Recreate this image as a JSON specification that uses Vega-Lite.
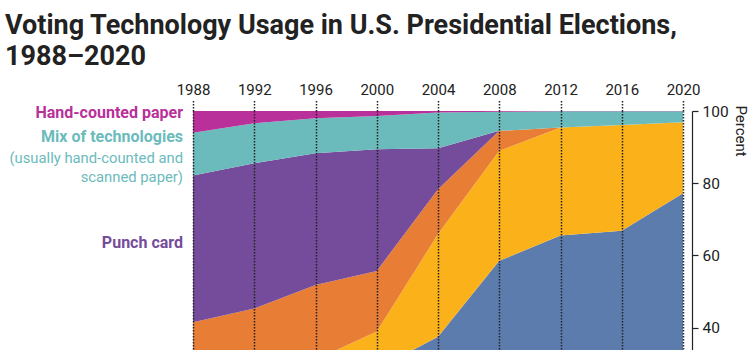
{
  "$schema": "https://vega.github.io/schema/vega-lite/v6.json",
  "width": 490,
  "height": 361,
  "autosize": {"type": "none"},
  "padding": {"left": 193, "top": 111, "right": 67, "bottom": 10},
  "background": "white",
  "title": {
    "text": ["Voting Technology Usage in U.S. Presidential Elections,", "1988–2020"],
    "anchor": "start",
    "frame": "group",
    "dx": -188,
    "offset": 11,
    "fontSize": 27,
    "font": "Roboto, sans-serif",
    "fontWeight": "bold",
    "color": "#222222",
    "lineHeight": 31
  },
  "config": {
    "view": {"stroke": null},
    "font": "Roboto, sans-serif"
  },
  "datasets": {
    "usage": [
      {"tech": "Optical scan", "rank": 1, "year": 1988, "pct": 7.5},
      {"tech": "Optical scan", "rank": 1, "year": 1992, "pct": 15.5},
      {"tech": "Optical scan", "rank": 1, "year": 1996, "pct": 23.5},
      {"tech": "Optical scan", "rank": 1, "year": 2000, "pct": 28.5},
      {"tech": "Optical scan", "rank": 1, "year": 2004, "pct": 37.5},
      {"tech": "Optical scan", "rank": 1, "year": 2008, "pct": 58.5},
      {"tech": "Optical scan", "rank": 1, "year": 2012, "pct": 65.5},
      {"tech": "Optical scan", "rank": 1, "year": 2016, "pct": 66.8},
      {"tech": "Optical scan", "rank": 1, "year": 2020, "pct": 77.2},
      {"tech": "Electronic", "rank": 2, "year": 1988, "pct": 3.7},
      {"tech": "Electronic", "rank": 2, "year": 1992, "pct": 3.5},
      {"tech": "Electronic", "rank": 2, "year": 1996, "pct": 7.6},
      {"tech": "Electronic", "rank": 2, "year": 2000, "pct": 10.4},
      {"tech": "Electronic", "rank": 2, "year": 2004, "pct": 28.4},
      {"tech": "Electronic", "rank": 2, "year": 2008, "pct": 30.5},
      {"tech": "Electronic", "rank": 2, "year": 2012, "pct": 29.9},
      {"tech": "Electronic", "rank": 2, "year": 2016, "pct": 29.3},
      {"tech": "Electronic", "rank": 2, "year": 2020, "pct": 19.7},
      {"tech": "Lever machine", "rank": 3, "year": 1988, "pct": 30.3},
      {"tech": "Lever machine", "rank": 3, "year": 1992, "pct": 26.3},
      {"tech": "Lever machine", "rank": 3, "year": 1996, "pct": 20.7},
      {"tech": "Lever machine", "rank": 3, "year": 2000, "pct": 16.8},
      {"tech": "Lever machine", "rank": 3, "year": 2004, "pct": 12.4},
      {"tech": "Lever machine", "rank": 3, "year": 2008, "pct": 5.5},
      {"tech": "Lever machine", "rank": 3, "year": 2012, "pct": 0},
      {"tech": "Lever machine", "rank": 3, "year": 2016, "pct": 0},
      {"tech": "Lever machine", "rank": 3, "year": 2020, "pct": 0},
      {"tech": "Punch card", "rank": 4, "year": 1988, "pct": 40.6},
      {"tech": "Punch card", "rank": 4, "year": 1992, "pct": 40.2},
      {"tech": "Punch card", "rank": 4, "year": 1996, "pct": 36.5},
      {"tech": "Punch card", "rank": 4, "year": 2000, "pct": 33.7},
      {"tech": "Punch card", "rank": 4, "year": 2004, "pct": 11.4},
      {"tech": "Punch card", "rank": 4, "year": 2008, "pct": 0},
      {"tech": "Punch card", "rank": 4, "year": 2012, "pct": 0},
      {"tech": "Punch card", "rank": 4, "year": 2016, "pct": 0},
      {"tech": "Punch card", "rank": 4, "year": 2020, "pct": 0},
      {"tech": "Mix of technologies", "rank": 5, "year": 1988, "pct": 11.9},
      {"tech": "Mix of technologies", "rank": 5, "year": 1992, "pct": 11.1},
      {"tech": "Mix of technologies", "rank": 5, "year": 1996, "pct": 9.7},
      {"tech": "Mix of technologies", "rank": 5, "year": 2000, "pct": 9.2},
      {"tech": "Mix of technologies", "rank": 5, "year": 2004, "pct": 9.9},
      {"tech": "Mix of technologies", "rank": 5, "year": 2008, "pct": 5.3},
      {"tech": "Mix of technologies", "rank": 5, "year": 2012, "pct": 4.5},
      {"tech": "Mix of technologies", "rank": 5, "year": 2016, "pct": 3.8},
      {"tech": "Mix of technologies", "rank": 5, "year": 2020, "pct": 3.0},
      {"tech": "Hand-counted paper", "rank": 6, "year": 1988, "pct": 6.0},
      {"tech": "Hand-counted paper", "rank": 6, "year": 1992, "pct": 3.4},
      {"tech": "Hand-counted paper", "rank": 6, "year": 1996, "pct": 2.0},
      {"tech": "Hand-counted paper", "rank": 6, "year": 2000, "pct": 1.4},
      {"tech": "Hand-counted paper", "rank": 6, "year": 2004, "pct": 0.4},
      {"tech": "Hand-counted paper", "rank": 6, "year": 2008, "pct": 0.2},
      {"tech": "Hand-counted paper", "rank": 6, "year": 2012, "pct": 0.1},
      {"tech": "Hand-counted paper", "rank": 6, "year": 2016, "pct": 0.1},
      {"tech": "Hand-counted paper", "rank": 6, "year": 2020, "pct": 0.1}
    ],
    "labels": [
      {"tech": "Hand-counted paper", "year": 1988, "pos": 98.1, "text": "Hand-counted paper"},
      {"tech": "Mix of technologies", "year": 1988, "pos": 91.4, "text": "Mix of technologies"},
      {"tech": "Punch card", "year": 1988, "pos": 62.0, "text": "Punch card"}
    ],
    "notes": [
      {"tech": "Mix of technologies", "year": 1988, "pos": 85.5, "text": "(usually hand-counted and"},
      {"tech": "Mix of technologies", "year": 1988, "pos": 80.4, "text": "scanned paper)"}
    ]
  },
  "layer": [
    {
      "data": {"name": "usage"},
      "mark": {"type": "area", "interpolate": "linear"},
      "encoding": {
        "x": {
          "field": "year",
          "type": "quantitative",
          "scale": {"domain": [1988, 2020], "nice": false, "zero": false},
          "axis": {
            "orient": "top",
            "values": [1988, 1992, 1996, 2000, 2004, 2008, 2012, 2016, 2020],
            "format": "d",
            "title": null,
            "domain": false,
            "labelFlush": false,
            "labelFontSize": 15,
            "labelColor": "#222222",
            "labelPadding": 3,
            "tickSize": 11,
            "tickColor": "#222222",
            "tickWidth": 1.5,
            "tickDash": [1.5, 1.5],
            "grid": true,
            "gridColor": "#222222",
            "gridWidth": 1.5,
            "gridDash": [1.5, 1.5],
            "gridOpacity": 1,
            "zindex": 1
          }
        },
        "y": {
          "field": "pct",
          "type": "quantitative",
          "aggregate": "sum",
          "stack": "zero",
          "scale": {"domain": [0, 100], "nice": false},
          "axis": {
            "orient": "right",
            "offset": 9,
            "values": [0, 20, 40, 60, 80, 100],
            "title": "Percent",
            "titleFontSize": 15,
            "titleFontWeight": "normal",
            "titleColor": "#222222",
            "titleAngle": 90,
            "titleAlign": "left",
            "titleBaseline": "alphabetic",
            "titleX": 43,
            "titleY": -6,
            "grid": false,
            "domainColor": "#222222",
            "domainWidth": 1.2,
            "tickColor": "#222222",
            "tickWidth": 1.2,
            "tickSize": 6,
            "labelFontSize": 15.5,
            "labelColor": "#222222",
            "labelPadding": 4
          }
        },
        "color": {
          "field": "tech",
          "type": "nominal",
          "scale": {
            "domain": ["Optical scan", "Electronic", "Lever machine", "Punch card", "Mix of technologies", "Hand-counted paper"],
            "range": ["#5d7cae", "#fbb21a", "#e87d36", "#754c9b", "#6bbbbc", "#b9309a"]
          },
          "legend": null
        },
        "order": {"field": "rank", "type": "quantitative", "sort": "ascending"}
      }
    },
    {
      "data": {"name": "labels"},
      "mark": {"type": "text", "align": "right", "baseline": "alphabetic", "dx": -10, "fontSize": 16, "fontWeight": "bold"},
      "encoding": {
        "x": {"field": "year", "type": "quantitative"},
        "y": {"field": "pos", "type": "quantitative", "stack": null},
        "text": {"field": "text"},
        "color": {"field": "tech", "type": "nominal", "legend": null}
      }
    },
    {
      "data": {"name": "notes"},
      "mark": {"type": "text", "align": "right", "baseline": "alphabetic", "dx": -10, "fontSize": 14.8, "fontWeight": "normal"},
      "encoding": {
        "x": {"field": "year", "type": "quantitative"},
        "y": {"field": "pos", "type": "quantitative", "stack": null},
        "text": {"field": "text"},
        "color": {"field": "tech", "type": "nominal", "legend": null}
      }
    }
  ]
}
